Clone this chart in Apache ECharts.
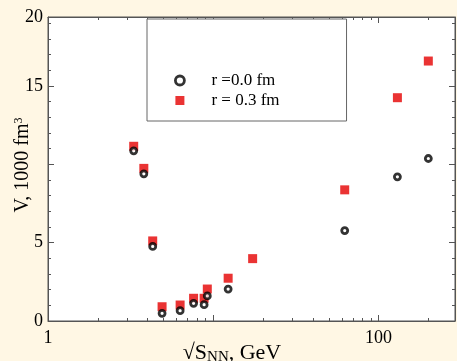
<!DOCTYPE html>
<html>
<head>
<meta charset="utf-8">
<script src="https://cdn.jsdelivr.net/npm/echarts@6/dist/echarts.min.js"></script>
<style>
html,body{margin:0;padding:0;background:#FFF7E4;}
#c{width:457px;height:361px;}
</style>
</head>
<body>
<div id="c"></div>
<script>
// ---- data ----
const energies = [3.3, 3.8, 4.3, 4.9, 6.3, 7.6, 8.8, 9.2, 12.3, 17.3, 62.4, 130, 200];
const volR00 = [10.86, 9.39, 4.76, 0.49, 0.66, 1.13, 1.04, 1.60, 2.04, null, 5.77, 9.20, 10.37];
const volR03 = [11.15, 9.74, 5.11, 0.91, 1.02, 1.45, 1.45, 2.04, 2.73, 3.98, 8.37, 14.25, 16.59];
const seriesNames = ['r =0.0 fm', 'r = 0.3 fm'];
const xLabelValues = [1, 100];
const xMinorTicks = [2, 3, 4, 5, 6, 7, 8, 9, 20, 30, 40, 50, 60, 70, 80, 90, 200];
const yMajorTicks = [0, 5, 10, 15];
const yMinorTicks = [1, 2, 3, 4, 6, 7, 8, 9, 11, 12, 13, 14, 16, 17, 18, 19];
const xMin = 1, xMax = 290;
const yMin = 0, yMax = 19.4;
const yLabelValues = [0, 5, 15, yMax];
const yTopLabel = '20';

function pairs(xs, ys) {
  const out = [];
  for (let i = 0; i < xs.length; i++) if (ys[i] != null) out.push([xs[i], ys[i]]);
  return out;
}

const FONT = "'Liberation Serif', 'DejaVu Serif', serif";
const LINE = '#555';
const TXT = '#000';
const lxMin = Math.log10(xMin), lxMax = Math.log10(xMax);

function xMajor(pos, showLabels) {
  return {
    type: 'log', logBase: 10, min: xMin, max: xMax, position: pos, gridIndex: 0,
    axisLine: { show: true, onZero: false, lineStyle: { color: LINE, width: 1 } },
    axisTick: { show: true, inside: true, length: 6, lineStyle: { color: LINE } },
    splitLine: { show: false }, minorTick: { show: false },
    axisLabel: showLabels ? {
      show: true, margin: 8, color: TXT, fontFamily: FONT, fontSize: 18,
      formatter: v => (xLabelValues.indexOf(Math.round(v)) >= 0 && Math.abs(v - Math.round(v)) < 1e-6) ? String(Math.round(v)) : ''
    } : { show: false }
  };
}
function xMinor(pos) {
  return {
    type: 'value', min: lxMin, max: lxMax, position: pos, gridIndex: 0,
    axisLine: { show: false, onZero: false },
    axisTick: { show: true, inside: true, length: 3, lineStyle: { color: LINE }, customValues: xMinorTicks.map(v => Math.log10(v)) },
    axisLabel: { show: false }, splitLine: { show: false }
  };
}
function yMajor(pos, showLabels) {
  return {
    type: 'value', min: yMin, max: yMax, position: pos, gridIndex: 0,
    axisLine: { show: true, onZero: false, lineStyle: { color: LINE, width: 1 } },
    axisTick: { show: true, inside: true, length: 6, lineStyle: { color: LINE }, customValues: yMajorTicks },
    splitLine: { show: false },
    axisLabel: showLabels ? {
      show: true, margin: 5, color: TXT, fontFamily: FONT, fontSize: 18,
      customValues: yLabelValues,
      formatter: v => (v === yMax ? yTopLabel : String(v))
    } : { show: false }
  };
}
function yMinor(pos) {
  return {
    type: 'value', min: yMin, max: yMax, position: pos, gridIndex: 0,
    axisLine: { show: false, onZero: false },
    axisTick: { show: true, inside: true, length: 3, lineStyle: { color: LINE }, customValues: yMinorTicks },
    axisLabel: { show: false }, splitLine: { show: false }
  };
}

const xA = xMajor('bottom', true);
xA.name = '√S{sub|NN}, GeV';
xA.nameLocation = 'middle';
xA.nameGap = 21;
xA.nameMoveOverlap = false;
xA.nameTextStyle = {
  fontFamily: FONT, fontSize: 22, color: TXT, padding: [0, 39, 0, 0],
  rich: { sub: { fontFamily: FONT, fontSize: 15, color: TXT, verticalAlign: 'bottom', padding: [8, 0, 0, 0] } }
};
const yA = yMajor('left', true);
yA.name = 'V, 1000 fm{sup|3}';
yA.nameLocation = 'middle';
yA.nameGap = 15;
yA.nameMoveOverlap = false;
yA.nameTextStyle = {
  fontFamily: FONT, fontSize: 20, color: TXT, padding: [0, 0, 0, 8],
  rich: { sup: { fontFamily: FONT, fontSize: 12, color: TXT, verticalAlign: 'top', padding: [0, 0, 8, 0] } }
};

const chart = echarts.init(document.getElementById('c'), null, { renderer: 'canvas' });
chart.setOption({
  animation: false,
  backgroundColor: '#FFF7E4',
  grid: { left: 48, right: 2, top: 17, bottom: 40, show: true, backgroundColor: '#fff', borderColor: LINE, borderWidth: 1, containLabel: false, outerBoundsMode: 'none' },
  xAxis: [xA, xMinor('bottom'), xMajor('top', false), xMinor('top')],
  yAxis: [yA, yMinor('left'), yMajor('right', false), yMinor('right')],
  legend: {
    data: [
      { name: seriesNames[0], itemStyle: { borderWidth: 2.8, borderColor: '#000', color: '#fff' } },
      { name: seriesNames[1] }
    ],
    orient: 'vertical', left: 147, top: 19,
    padding: [53, 67, 12, 27], itemGap: 3, itemWidth: 9, itemHeight: 9,
    borderColor: '#666', borderWidth: 1, backgroundColor: '#fff',
    textStyle: { fontFamily: FONT, fontSize: 17, color: TXT, lineHeight: 16, padding: [0, 0, 0, 22] }
  },
  series: [
    {
      name: seriesNames[1], type: 'scatter', xAxisIndex: 0, yAxisIndex: 0, z: 2,
      symbol: 'rect', symbolSize: 9, itemStyle: { color: '#E50000' },
      data: pairs(energies, volR03)
    },
    {
      name: seriesNames[0], type: 'scatter', xAxisIndex: 0, yAxisIndex: 0, z: 3,
      symbol: 'circle', symbolSize: 6, itemStyle: { color: '#fff', borderColor: '#000', borderWidth: 2.8 },
      data: pairs(energies, volR00)
    }
  ]
});
</script>
</body>
</html>
